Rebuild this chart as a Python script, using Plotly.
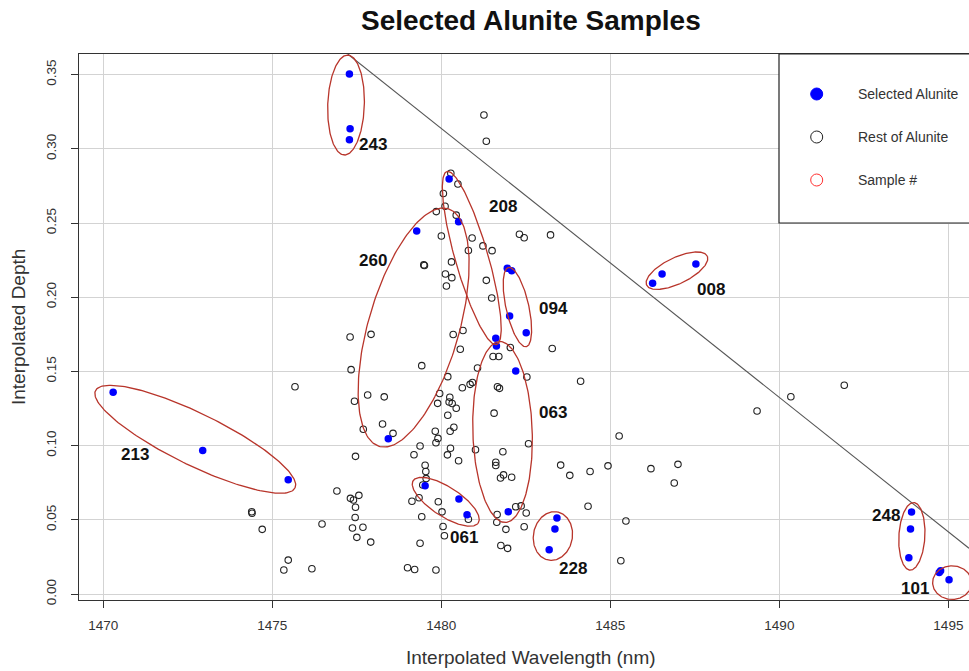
import numpy as np
import plotly.graph_objects as go

# ---------------- data ----------------
sel_x = [1470.29, 1472.94, 1475.47, 1477.28, 1477.30, 1477.28, 1480.23, 1480.51, 1479.27, 1478.43,
         1481.95, 1482.08, 1482.02, 1482.51, 1481.61, 1481.63, 1482.20, 1481.98, 1479.52, 1480.52,
         1480.76, 1483.42, 1483.36, 1483.19, 1486.25, 1486.53, 1487.53, 1493.91, 1493.88, 1493.83,
         1494.73, 1494.77, 1495.02]
sel_y = [0.1359, 0.0968, 0.0770, 0.3504, 0.3135, 0.3061, 0.2797, 0.2509, 0.2446, 0.1047,
         0.2195, 0.2179, 0.1873, 0.1761, 0.1723, 0.1671, 0.1503, 0.0555, 0.0730, 0.0640,
         0.0535, 0.0512, 0.0438, 0.0299, 0.2094, 0.2156, 0.2224, 0.0553, 0.0438, 0.0245,
         0.0146, 0.0157, 0.0096]

rest_x = [1481.26, 1481.33, 1480.28, 1480.49, 1480.06, 1480.11, 1479.85, 1480.44, 1480.00, 1480.91,
          1482.31, 1482.45, 1483.23, 1481.23, 1481.50, 1480.80, 1479.48, 1479.50, 1480.30, 1480.12,
          1480.31, 1480.15, 1481.33, 1481.49, 1477.30, 1477.92, 1480.35, 1480.64, 1480.56, 1482.04,
          1483.28, 1481.53, 1481.70, 1477.33, 1479.42, 1481.07, 1482.53, 1480.19, 1484.12, 1481.66,
          1481.72, 1480.62, 1480.85, 1480.92, 1479.95, 1477.82, 1478.31, 1477.43, 1480.25, 1480.23,
          1480.32, 1480.44, 1479.89, 1481.56, 1480.19, 1478.26, 1477.69, 1478.57, 1480.37, 1480.26,
          1479.82, 1479.90, 1479.84, 1485.26, 1482.58, 1481.01, 1480.27, 1480.18, 1480.51, 1481.82,
          1479.37, 1479.19, 1477.46, 1481.61, 1481.61, 1481.75, 1481.84, 1482.08, 1483.53, 1483.80,
          1484.40, 1484.93, 1484.34, 1479.52, 1479.54, 1479.55, 1479.45, 1476.91, 1477.31, 1477.40,
          1477.56, 1477.46, 1477.45, 1477.37, 1477.68, 1477.50, 1477.91, 1476.47, 1476.17, 1479.00,
          1479.21, 1479.84, 1479.37, 1479.42, 1479.13, 1479.34, 1479.91, 1480.02, 1480.05, 1480.09,
          1480.80, 1481.65, 1481.64, 1481.91, 1481.76, 1481.96, 1482.20, 1482.36, 1482.51, 1482.45,
          1485.31, 1474.39, 1474.40, 1474.70, 1475.47, 1475.34, 1475.67, 1491.92, 1490.34, 1489.34,
          1486.20, 1487.00, 1486.89, 1485.46]
rest_y = [0.3228, 0.3051, 0.2835, 0.2763, 0.2699, 0.2613, 0.2577, 0.2553, 0.2413, 0.2399,
          0.2424, 0.2401, 0.2420, 0.2346, 0.2314, 0.2315, 0.2218, 0.2214, 0.2238, 0.2157,
          0.2132, 0.2076, 0.2114, 0.1995, 0.1732, 0.1750, 0.1749, 0.1776, 0.1650, 0.1661,
          0.1655, 0.1601, 0.1601, 0.1512, 0.1539, 0.1523, 0.1463, 0.1465, 0.1434, 0.1397,
          0.1386, 0.1390, 0.1413, 0.1426, 0.1351, 0.1341, 0.1329, 0.1299, 0.1326, 0.1294,
          0.1284, 0.1252, 0.1285, 0.1219, 0.1205, 0.1146, 0.1111, 0.1083, 0.1124, 0.1097,
          0.1097, 0.1049, 0.1020, 0.1065, 0.1013, 0.0972, 0.0983, 0.0938, 0.0898, 0.0959,
          0.0998, 0.0939, 0.0928, 0.0888, 0.0866, 0.0782, 0.0803, 0.0787, 0.0869, 0.0800,
          0.0826, 0.0864, 0.0592, 0.0868, 0.0826, 0.0778, 0.0735, 0.0694, 0.0645, 0.0634,
          0.0665, 0.0585, 0.0516, 0.0445, 0.0450, 0.0382, 0.0350, 0.0472, 0.0171, 0.0177,
          0.0166, 0.0162, 0.0342, 0.0521, 0.0625, 0.0649, 0.0622, 0.0554, 0.0455, 0.0393,
          0.0504, 0.0536, 0.0484, 0.0436, 0.0327, 0.0308, 0.0588, 0.0594, 0.0546, 0.0454,
          0.0224, 0.0555, 0.0545, 0.0436, 0.0229, 0.0162, 0.1397, 0.1407, 0.1330, 0.1233,
          0.0845, 0.0874, 0.0748, 0.0492]

sample_ids = ["213", "243", "208", "260", "094", "063", "061", "228", "008", "248", "101"]
sample_label_x = [1470.94, 1477.99, 1481.83, 1477.99, 1483.31, 1483.30, 1480.67, 1483.89, 1487.98, 1493.16, 1494.01]
sample_label_y = [0.0941, 0.3026, 0.2610, 0.2246, 0.1925, 0.1224, 0.0379, 0.0173, 0.2053, 0.0532, 0.0038]

# ellipse centres (data units) around each sample group
ell_cx = [1472.72, 1477.18, 1480.90, 1479.18, 1482.25, 1481.81, 1480.13, 1483.30, 1486.97, 1493.92, 1495.11]
ell_cy = [0.1043, 0.3295, 0.2264, 0.1796, 0.1934, 0.1092, 0.0622, 0.0391, 0.2179, 0.0389, 0.0077]

# reference line: depth = trend_at_1470 + trend_slope * (wavelength - 1470)
trend_at_1470 = 0.4949
trend_slope = -0.01812

x_ticks = [1470, 1475, 1480, 1485, 1490, 1495]
y_ticks = [0.00, 0.05, 0.10, 0.15, 0.20, 0.25, 0.30, 0.35]

# ---------------- layout geometry / styles ----------------
W, H = 969, 671
ML, MR, MT, MB = 79, 0, 54, 71
X_RANGE = [1469.28, 1495.61]
Y_RANGE = [-0.004, 0.3639]
PW, PH = W - ML - MR, H - MT - MB
kx = PW / (X_RANGE[1] - X_RANGE[0])
ky = PH / (Y_RANGE[1] - Y_RANGE[0])

# ellipse shapes: semi-axes (px) and rotation (deg, screen, ccw)
ell_a = [111, 50, 90, 123.7, 40.6, 90.5, 38.8, 24.5, 33.6, 33.8, 19.5]
ell_b = [26, 18.3, 16.5, 45.4, 11.4, 29.7, 14.6, 19.5, 13.1, 13, 16.8]
ell_ang = [-26, 88, 106, 73.9, 102.6, 91.8, -33, 80, 25.6, 86.8, 0]

FONT = "Liberation Sans, Arial, Helvetica, sans-serif"
ELL_COLOR = "#B8352B"

fig = go.Figure()

# reference line
x0_line = 1470 + (Y_RANGE[1] - trend_at_1470) / trend_slope
x_line = [x0_line, X_RANGE[1]]
y_line = [trend_at_1470 + trend_slope * (v - 1470) for v in x_line]
fig.add_trace(go.Scatter(x=x_line, y=y_line, mode="lines",
                         line=dict(color="#555555", width=1.1),
                         hoverinfo="skip", showlegend=False))

# rest of alunite (open circles)
fig.add_trace(go.Scatter(x=rest_x, y=rest_y, mode="markers",
                         marker=dict(symbol="circle-open", size=6.5, color="#222222",
                                     line=dict(width=1.1, color="#222222")),
                         name="Rest of Alunite", showlegend=False))

# selected alunite (filled blue)
fig.add_trace(go.Scatter(x=sel_x, y=sel_y, mode="markers",
                         marker=dict(symbol="circle", size=7.5, color="#0000FF",
                                     line=dict(width=0)),
                         name="Selected Alunite", showlegend=False))

# ellipses
t = np.linspace(0, 2 * np.pi, 200)
for cx, cy, a, b, ang in zip(ell_cx, ell_cy, ell_a, ell_b, ell_ang):
    th = np.deg2rad(ang)
    dx = a * np.cos(t) * np.cos(th) - b * np.sin(t) * np.sin(th)
    dy = a * np.cos(t) * np.sin(th) + b * np.sin(t) * np.cos(th)
    fig.add_trace(go.Scatter(x=cx + dx / kx, y=cy + dy / ky, mode="lines",
                             line=dict(color=ELL_COLOR, width=1.3),
                             hoverinfo="skip", showlegend=False))

annotations = []
for sid, lx, ly in zip(sample_ids, sample_label_x, sample_label_y):
    annotations.append(dict(x=lx, y=ly, xref="x", yref="y", text="<b>%s</b>" % sid,
                            showarrow=False, font=dict(family=FONT, size=17, color="#111111"),
                            xanchor="center", yanchor="middle"))

# title and axis titles
annotations.append(dict(x=(531 - ML) / PW, y=(H - MB - 20) / PH, xref="paper", yref="paper",
                        text="<b>Selected Alunite Samples</b>", showarrow=False,
                        font=dict(family=FONT, size=28, color="#111111"),
                        xanchor="center", yanchor="middle"))
annotations.append(dict(x=(531 - ML) / PW, y=(H - MB - 657) / PH, xref="paper", yref="paper",
                        text="Interpolated Wavelength (nm)", showarrow=False,
                        font=dict(family=FONT, size=19, color="#333333"),
                        xanchor="center", yanchor="middle"))
annotations.append(dict(x=(18 - ML) / PW, y=0.5, xref="paper", yref="paper",
                        text="Interpolated Depth", showarrow=False, textangle=-90,
                        font=dict(family=FONT, size=19, color="#333333"),
                        xanchor="center", yanchor="middle"))

# manual legend box
def px2paper_x(px):
    return (px - ML) / PW

def px2paper_y(py):
    return (H - MB - py) / PH

shapes = [dict(type="rect", xref="paper", yref="paper",
               x0=px2paper_x(779), x1=px2paper_x(1000), y0=px2paper_y(223), y1=px2paper_y(54),
               line=dict(color="#222222", width=1.2), fillcolor="white", layer="above")]
legend_items = [("Selected Alunite", "#0000FF", "#0000FF", 94),
                ("Rest of Alunite", "rgba(0,0,0,0)", "#222222", 137),
                ("Sample #", "rgba(0,0,0,0)", "#FF3030", 180)]
r = 6
for label, fill, edge, py in legend_items:
    shapes.append(dict(type="circle", xref="paper", yref="paper",
                       x0=px2paper_x(816.7 - r), x1=px2paper_x(816.7 + r),
                       y0=px2paper_y(py + r), y1=px2paper_y(py - r),
                       fillcolor=fill, line=dict(color=edge, width=1), layer="above"))
    annotations.append(dict(x=px2paper_x(856), y=px2paper_y(py), xref="paper", yref="paper",
                            text=label, showarrow=False, xanchor="left", yanchor="middle",
                            font=dict(family=FONT, size=14, color="#333333")))

axis_common = dict(showgrid=True, gridcolor="#D3D3D3", gridwidth=1, zeroline=False,
                   showline=True, linecolor="#333333", linewidth=1,
                   ticks="outside", ticklen=7, tickcolor="#333333", tickwidth=1,
                   tickfont=dict(family=FONT, size=13.5, color="#333333"))

fig.update_layout(
    width=W, height=H,
    margin=dict(l=ML, r=MR, t=MT, b=MB, autoexpand=False),
    paper_bgcolor="white", plot_bgcolor="white",
    showlegend=False,
    xaxis=dict(range=X_RANGE, tickvals=x_ticks, ticktext=[str(v) for v in x_ticks],
               mirror=True, ticklabelstandoff=6, **axis_common),
    yaxis=dict(range=Y_RANGE, tickvals=y_ticks, ticktext=["%.2f" % v for v in y_ticks],
               tickangle=-90, ticklabelstandoff=10, **axis_common),
    annotations=annotations,
    shapes=shapes,
)

fig.write_html("out.html", config={"displayModeBar": False},
               post_script="document.body.style.margin='0px';document.body.style.overflow='hidden';")
